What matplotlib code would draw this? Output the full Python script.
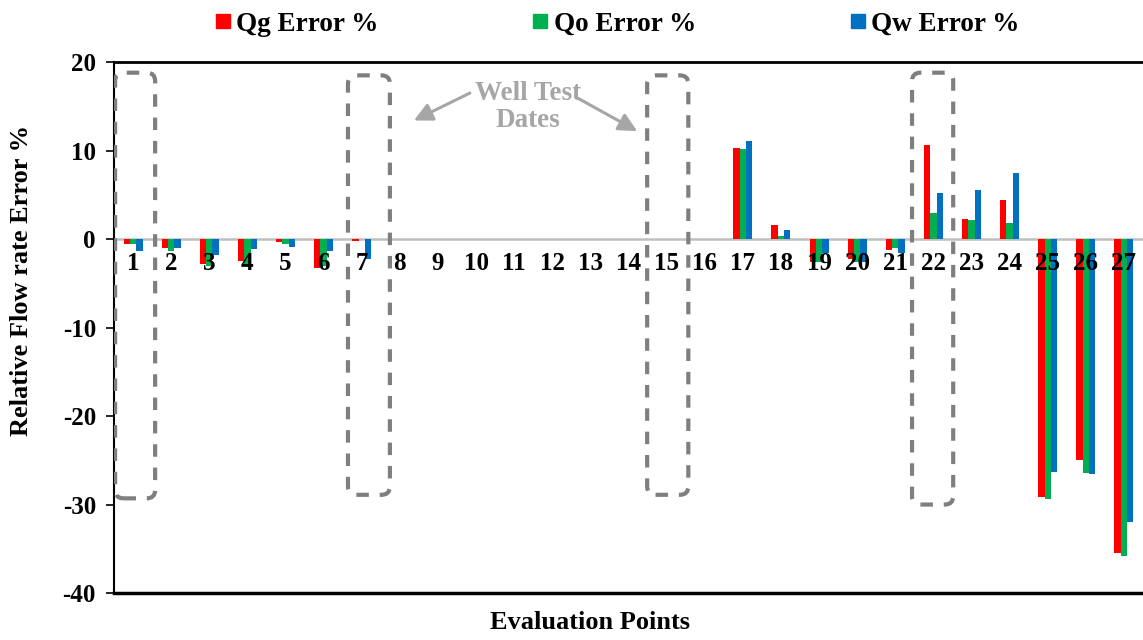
import matplotlib.pyplot as plt
import numpy as np
from matplotlib.patches import FancyBboxPatch
from matplotlib.lines import Line2D

plt.rcParams['font.family'] = ['Liberation Serif', 'DejaVu Serif']
plt.rcParams['font.weight'] = 'bold'
plt.rcParams['axes.unicode_minus'] = False

# evaluation points 1..27
points = list(range(1, 28))
qg_err = [-0.6, -1.0, -2.8, -2.5, -0.3, -3.3, -0.2, 0, 0, 0, 0, 0, 0, 0, 0, 0,
          10.3, 1.6, -2.6, -2.3, -1.2, 10.6, 2.3, 4.4, -29.2, -25.0, -35.5]
qo_err = [-0.6, -1.4, -3.0, -2.8, -0.6, -3.0, 0.0, 0, 0, 0, 0, 0, 0, 0, 0, 0,
          10.2, 0.35, -2.6, -2.6, -1.0, 2.9, 2.1, 1.8, -29.4, -26.4, -35.8]
qw_err = [-1.4, -1.0, -1.8, -1.1, -0.9, -1.4, -2.2, 0, 0, 0, 0, 0, 0, 0, 0, 0,
          11.1, 1.05, -1.6, -2.6, -1.6, 5.2, 5.6, 7.5, -26.3, -26.5, -32.0]

colors = ['#FF0000', '#00B050', '#0070C0']
labels = ['Qg Error %', 'Qo Error %', 'Qw Error %']

fig = plt.figure(figsize=(11.43, 6.4), dpi=100)
ax = fig.add_axes([0.0997, 0.0734, 0.9003, 0.8296])

x = np.array(points)
w = 0.166
for i, (vals, c) in enumerate(zip([qg_err, qo_err, qw_err], colors)):
  ax.bar(x + (i - 1) * w, vals, width=w, color=c, zorder=1.5)

ax.set_xlim(0.5, 27.5)
ax.set_ylim(-40, 20)
ax.set_yticks([20, 10, 0, -10, -20, -30, -40])
ax.tick_params(axis='y', labelsize=18, length=6, width=1.2, direction='out', pad=7)

# category axis crosses at zero
ax.spines['bottom'].set_position(('data', 0))
ax.spines['bottom'].set_color('#bfbfbf')
ax.spines['bottom'].set_linewidth(1.8)
ax.spines['bottom'].set_zorder(1.2)
ax.set_xticks(points)
ax.set_xticklabels([str(p) for p in points])
ax.tick_params(axis='x', labelsize=18, length=0, pad=9)
ax.spines['right'].set_visible(False)
ax.spines['top'].set_linewidth(2)
ax.spines['left'].set_linewidth(1.5)
ax.axhline(-40, color='black', lw=2.5, clip_on=False)

ax.set_ylabel('Relative Flow rate Error %', fontsize=19, fontweight='bold')
ax.yaxis.set_label_coords(-0.0787, 0.588)
fig.text(0.516, 0.027, 'Evaluation Points', ha='center', va='center', fontsize=19, fontweight='bold')

# dashed boxes around well test dates
boxes = [(0.53, 1.58, -29.3, 18.8), (6.64, 7.74, -28.9, 18.5),
         (14.49, 15.57, -28.9, 18.5), (21.44, 22.52, -30.0, 18.8)]
for x0, x1, y0, y1 in boxes:
  p = FancyBboxPatch((x0, y0), x1 - x0, y1 - y0,
                     boxstyle='round,pad=0,rounding_size=0.22', mutation_aspect=4.3,
                     fill=False, edgecolor='#7f7f7f', lw=3, linestyle=(0, (3, 2.6)), zorder=4)
  ax.add_patch(p)

ax.text(11.37, 14.9, 'Well Test\nDates', ha='center', va='center', fontsize=19.5,
        fontweight='bold', color='#a6a6a6', linespacing=1.1, zorder=5)
arrow_kw = dict(arrowstyle='-|>,head_length=1.1,head_width=0.55', color='#a6a6a6', lw=2.2,
                shrinkA=0, shrinkB=0)
ax.annotate('', xy=(8.37, 13.4), xytext=(9.84, 16.5), arrowprops=arrow_kw)
ax.annotate('', xy=(14.23, 12.2), xytext=(12.68, 15.9), arrowprops=arrow_kw)

handles = [Line2D([], [], marker='s', linestyle='none', markersize=9.5, color=c) for c in colors]
fig.legend(handles, labels, loc='upper center', bbox_to_anchor=(0.54, 1.02), ncol=3,
           frameon=False, handlelength=0.6, handletextpad=0.2, columnspacing=5.67,
           prop={'weight': 'bold', 'size': 19.5})

fig.savefig('out.png', dpi=100)
